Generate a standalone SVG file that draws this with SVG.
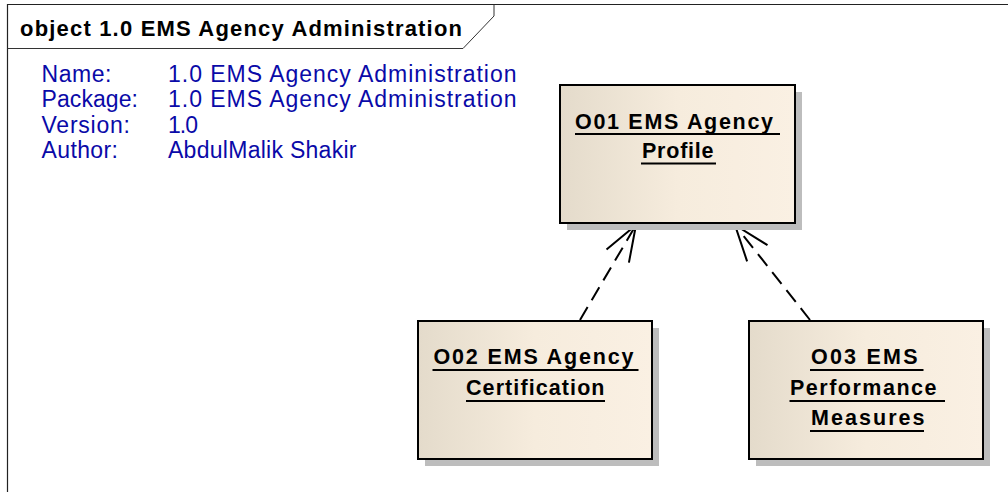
<svg xmlns="http://www.w3.org/2000/svg" width="1008" height="492" viewBox="0 0 1008 492">
<style>
.title{font-family:"Liberation Sans",Arial,sans-serif;font-weight:bold;font-size:22px;fill:#000}
.info{font-family:"Liberation Sans",Arial,sans-serif;font-size:23px;fill:#0a0aa8}
.lbl{font-family:"Liberation Sans",Arial,sans-serif;font-weight:bold;font-size:21.5px;fill:#000}
.box{fill:url(#nodeGrad);stroke:#000;stroke-width:2}
.shadow{fill:#bdbdbd}
.ul{stroke:#000;stroke-width:2}
.dep{stroke:#000;stroke-width:2;stroke-dasharray:15 8;fill:none}
</style>
<defs>
<linearGradient id="nodeGrad" x1="0" y1="0" x2="1" y2="0">
<stop offset="0" stop-color="#e4dbcb"/>
<stop offset="0.5" stop-color="#f6ecdd"/>
<stop offset="1" stop-color="#faf0e3"/>
</linearGradient>
<marker id="openArrow" markerUnits="userSpaceOnUse" orient="auto" refX="0" refY="0" markerWidth="40" markerHeight="30" overflow="visible">
<path d="M-36,-13 L0,0 L-36,13" fill="none" stroke="#000" stroke-width="2" stroke-dasharray="none"/>
</marker>
</defs>
<rect x="0" y="0" width="1008" height="492" fill="#fff"/>
<g id="frame">
<path d="M7.5,492 V4.5 H1008" fill="none" stroke="#222" stroke-width="1.2"/>
<path d="M7.5,48.5 H463 L494,16 V4.5" fill="none" stroke="#333" stroke-width="1"/>
<text class="title" x="20" y="35.5" textLength="442" lengthAdjust="spacing">object 1.0 EMS Agency Administration</text>
</g>
<g id="info">
<text class="info" x="41.5" y="82" textLength="70" lengthAdjust="spacing">Name:</text>
<text class="info" x="41.5" y="107" textLength="96.5" lengthAdjust="spacing">Package:</text>
<text class="info" x="41.5" y="132.5" textLength="88.5" lengthAdjust="spacing">Version:</text>
<text class="info" x="41.5" y="158" textLength="76.5" lengthAdjust="spacing">Author:</text>
<text class="info" x="168" y="82" textLength="348.5" lengthAdjust="spacing">1.0 EMS Agency Administration</text>
<text class="info" x="168" y="107" textLength="348.5" lengthAdjust="spacing">1.0 EMS Agency Administration</text>
<text class="info" x="168" y="132.5" textLength="30" lengthAdjust="spacing">1.0</text>
<text class="info" x="168" y="158" textLength="188.5" lengthAdjust="spacing">AbdulMalik Shakir</text>
</g>
<g id="connectors">
<line class="dep" x1="580" y1="320" x2="636" y2="225" marker-end="url(#openArrow)"/>
<line class="dep" x1="810" y1="320" x2="735" y2="225" marker-end="url(#openArrow)"/>
</g>
<g id="O01">
<rect class="shadow" x="567" y="92" width="235" height="138"/>
<rect class="box" x="560" y="85" width="235" height="138"/>
<text class="lbl" x="575" y="129" textLength="198" lengthAdjust="spacing">O01 EMS Agency</text>
<line class="ul" x1="575" y1="134" x2="780" y2="134"/>
<text class="lbl" x="642" y="158" textLength="71.5" lengthAdjust="spacing">Profile</text>
<line class="ul" x1="641" y1="163.5" x2="716" y2="163.5"/>
</g>
<g id="O02">
<rect class="shadow" x="425" y="328" width="234" height="138"/>
<rect class="box" x="418" y="321" width="234" height="138"/>
<text class="lbl" x="433.5" y="364" textLength="200" lengthAdjust="spacing">O02 EMS Agency</text>
<line class="ul" x1="432.5" y1="370" x2="638.5" y2="370"/>
<text class="lbl" x="466" y="395" textLength="138.5" lengthAdjust="spacing">Certification</text>
<line class="ul" x1="466" y1="401" x2="605" y2="401"/>
</g>
<g id="O03">
<rect class="shadow" x="756" y="328" width="234" height="138"/>
<rect class="box" x="749" y="321" width="234" height="138"/>
<text class="lbl" x="811" y="364" textLength="106.5" lengthAdjust="spacing">O03 EMS</text>
<line class="ul" x1="810" y1="370" x2="923.5" y2="370"/>
<text class="lbl" x="790" y="395" textLength="146.5" lengthAdjust="spacing">Performance</text>
<line class="ul" x1="789.5" y1="401" x2="945" y2="401"/>
<text class="lbl" x="811" y="425" textLength="113.5" lengthAdjust="spacing">Measures</text>
<line class="ul" x1="810" y1="431" x2="924" y2="431"/>
</g>
</svg>
